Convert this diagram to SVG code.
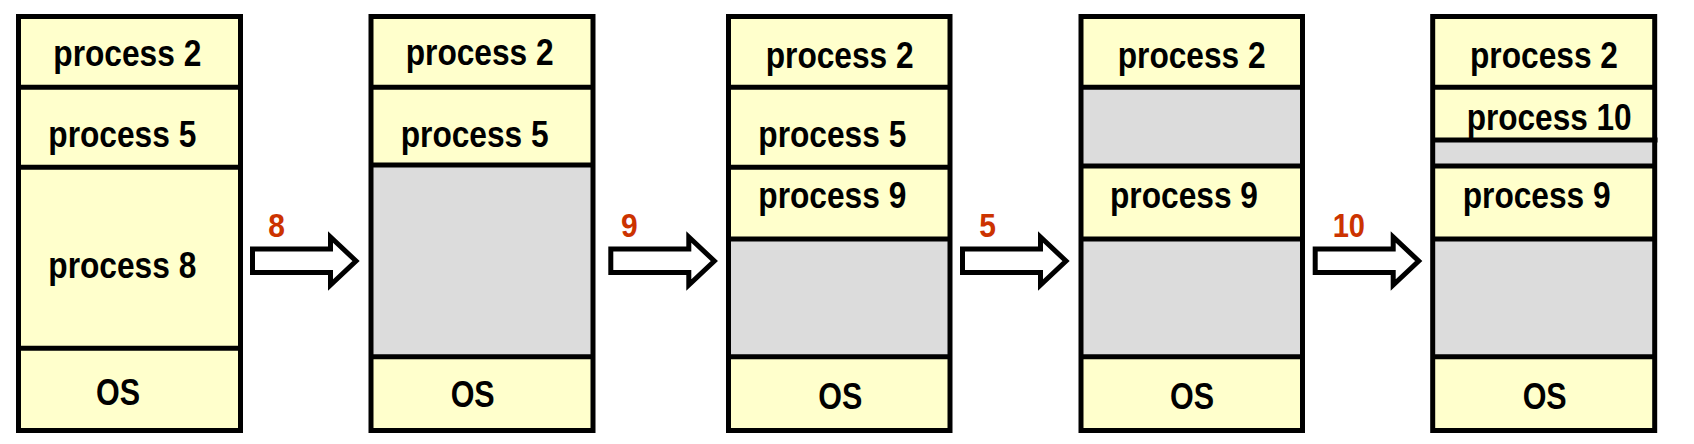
<svg xmlns="http://www.w3.org/2000/svg" xmlns:xlink="http://www.w3.org/1999/xlink" width="1694" height="444" viewBox="0 0 1694 444">
<style>
.used{fill:#ffffcc}
.free{fill:#dcdcdc}
.frame{fill:none;stroke:#000;stroke-width:5}
.div{stroke:#000;stroke-width:5}
.t{font-family:"Liberation Sans",Arial,sans-serif;font-weight:bold;font-size:37px;fill:#000}
.lbl{font-family:"Liberation Sans",Arial,sans-serif;font-weight:bold;font-size:33.5px;fill:#cc3300}
.arrow{fill:#fff;stroke:#000;stroke-width:5;stroke-linejoin:miter}
</style>
<defs>
<polygon id="arr" class="arrow" points="0,249 78,249 78,237 103.5,261 78,285 78,272.5 0,272.5"/>
</defs>
<rect width="1694" height="444" fill="#fff"/>

<g id="memory1">
<rect class="used" x="18.5" y="16.5" width="222" height="414"/>
<line class="div" x1="18.5" y1="87.3" x2="240.5" y2="87.3"/>
<line class="div" x1="18.5" y1="167.3" x2="240.5" y2="167.3"/>
<line class="div" x1="18.5" y1="348.3" x2="240.5" y2="348.3"/>
<rect class="frame" x="18.5" y="16.5" width="222" height="414"/>
<text class="t" x="53.3" y="65.7" textLength="148" lengthAdjust="spacingAndGlyphs">process 2</text>
<text class="t" x="48.3" y="146.7" textLength="148" lengthAdjust="spacingAndGlyphs">process 5</text>
<text class="t" x="48.3" y="278.3" textLength="148" lengthAdjust="spacingAndGlyphs">process 8</text>
<text class="t" x="96" y="405" textLength="44" lengthAdjust="spacingAndGlyphs">OS</text>
</g>

<g id="memory2">
<rect class="used" x="371" y="16.5" width="222" height="414"/>
<rect class="free" x="371" y="165" width="222" height="191.7"/>
<line class="div" x1="371" y1="87.3" x2="593" y2="87.3"/>
<line class="div" x1="371" y1="165" x2="593" y2="165"/>
<line class="div" x1="371" y1="356.7" x2="593" y2="356.7"/>
<rect class="frame" x="371" y="16.5" width="222" height="414"/>
<text class="t" x="405.7" y="65" textLength="148" lengthAdjust="spacingAndGlyphs">process 2</text>
<text class="t" x="400.7" y="146.7" textLength="148" lengthAdjust="spacingAndGlyphs">process 5</text>
<text class="t" x="450.7" y="407" textLength="44" lengthAdjust="spacingAndGlyphs">OS</text>
</g>

<g id="memory3">
<rect class="used" x="728.5" y="16.5" width="221.5" height="414"/>
<rect class="free" x="728.5" y="239" width="221.5" height="117.7"/>
<line class="div" x1="728.5" y1="87.3" x2="950" y2="87.3"/>
<line class="div" x1="728.5" y1="167.3" x2="950" y2="167.3"/>
<line class="div" x1="728.5" y1="239" x2="950" y2="239"/>
<line class="div" x1="728.5" y1="356.7" x2="950" y2="356.7"/>
<rect class="frame" x="728.5" y="16.5" width="221.5" height="414"/>
<text class="t" x="765.7" y="68.3" textLength="148" lengthAdjust="spacingAndGlyphs">process 2</text>
<text class="t" x="758.3" y="146.7" textLength="148" lengthAdjust="spacingAndGlyphs">process 5</text>
<text class="t" x="758.3" y="208.3" textLength="148" lengthAdjust="spacingAndGlyphs">process 9</text>
<text class="t" x="818.3" y="409.3" textLength="44" lengthAdjust="spacingAndGlyphs">OS</text>
</g>

<g id="memory4">
<rect class="used" x="1081" y="16.5" width="221.5" height="414"/>
<rect class="free" x="1081" y="87.3" width="221.5" height="78.7"/>
<rect class="free" x="1081" y="239" width="221.5" height="117.7"/>
<line class="div" x1="1081" y1="87.3" x2="1302.5" y2="87.3"/>
<line class="div" x1="1081" y1="166" x2="1302.5" y2="166"/>
<line class="div" x1="1081" y1="239" x2="1302.5" y2="239"/>
<line class="div" x1="1081" y1="356.7" x2="1302.5" y2="356.7"/>
<rect class="frame" x="1081" y="16.5" width="221.5" height="414"/>
<text class="t" x="1117.7" y="68.3" textLength="148" lengthAdjust="spacingAndGlyphs">process 2</text>
<text class="t" x="1110" y="208.3" textLength="148" lengthAdjust="spacingAndGlyphs">process 9</text>
<text class="t" x="1170" y="409.3" textLength="44" lengthAdjust="spacingAndGlyphs">OS</text>
</g>

<g id="memory5">
<rect class="used" x="1432.7" y="16.5" width="222" height="414"/>
<rect class="free" x="1432.7" y="140" width="222" height="26"/>
<rect class="free" x="1432.7" y="239" width="222" height="117.7"/>
<line class="div" x1="1432.7" y1="87.3" x2="1654.7" y2="87.3"/>
<line class="div" x1="1432.7" y1="140" x2="1657.5" y2="140"/>
<line class="div" x1="1432.7" y1="166" x2="1654.7" y2="166"/>
<line class="div" x1="1432.7" y1="239" x2="1654.7" y2="239"/>
<line class="div" x1="1432.7" y1="356.7" x2="1654.7" y2="356.7"/>
<rect class="frame" x="1432.7" y="16.5" width="222" height="414"/>
<text class="t" x="1470" y="68.3" textLength="148" lengthAdjust="spacingAndGlyphs">process 2</text>
<text class="t" x="1466.7" y="130" textLength="165" lengthAdjust="spacingAndGlyphs">process 10</text>
<text class="t" x="1462.7" y="208.3" textLength="148" lengthAdjust="spacingAndGlyphs">process 9</text>
<text class="t" x="1522.7" y="409.3" textLength="44" lengthAdjust="spacingAndGlyphs">OS</text>
</g>

<g id="connectors">
<use xlink:href="#arr" transform="translate(252.5,0)"/>
<text class="lbl" x="268.3" y="236.5" textLength="16.7" lengthAdjust="spacingAndGlyphs">8</text>
<use xlink:href="#arr" transform="translate(610.8,0)"/>
<text class="lbl" x="621" y="236.5" textLength="16.7" lengthAdjust="spacingAndGlyphs">9</text>
<use xlink:href="#arr" transform="translate(962.5,0)"/>
<text class="lbl" x="979.3" y="236.5" textLength="16.7" lengthAdjust="spacingAndGlyphs">5</text>
<use xlink:href="#arr" transform="translate(1315.2,0)"/>
<text class="lbl" x="1332.7" y="236.5" textLength="32.3" lengthAdjust="spacingAndGlyphs">10</text>
</g>
</svg>
